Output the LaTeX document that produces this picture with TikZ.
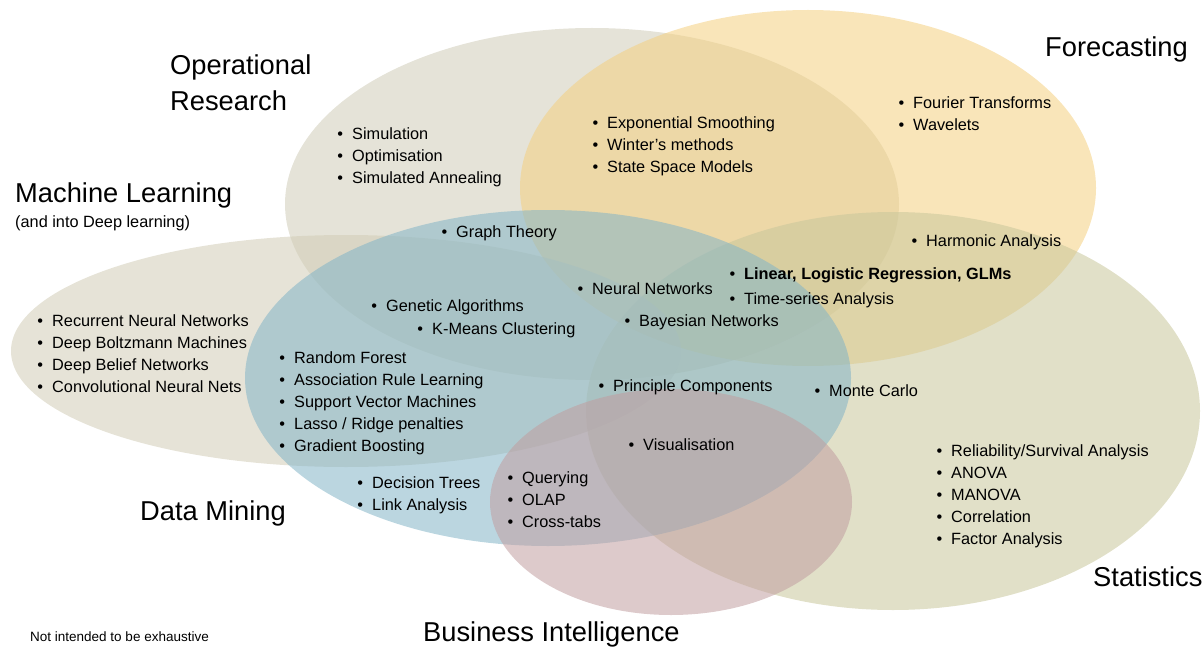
\documentclass[tikz,border=0pt]{standalone}
\usepackage{fontspec}
\setmainfont{Liberation Sans}

\definecolor{orgrey}{RGB}{207,204,184}
\definecolor{fcyellow}{RGB}{244,208,128}
\definecolor{mlgrey}{RGB}{209,204,182}
\definecolor{dmblue}{RGB}{131,180,199}
\definecolor{stolive}{RGB}{200,198,155}
\definecolor{bipink}{RGB}{193,158,160}

% bullet hanging left of the entry text
\newcommand\itm{\llap{\textbullet\hspace{9pt}}}
% #1 name, #2 x of text, #3 y of first line, #4 entries
\newcommand\itemlist[4]{%
  \foreach \txt [count=\k] in {#4}
    \node[entry] (#1\k) at (#2,#3+22*\k-22) {\txt};}

\tikzset{
  blob/.style={fill opacity=0.55},
  entry/.style={anchor=west, inner sep=0pt, text height=11.7pt, text depth=0pt,
    font=\fontsize{16.3}{22}\selectfont, execute at begin node=\itm},
  heading/.style={anchor=west, inner sep=0pt, text height=19.5pt, text depth=0pt,
    font=\fontsize{27.3}{36}\selectfont},
}

\begin{document}
\begin{tikzpicture}[x=1pt,y=-1pt]
  \useasboundingbox (0,0) rectangle (1204,647);

  % the six fields
  \fill [orgrey, blob] (592,204) ellipse [x radius=307, y radius=176];
  \fill [fcyellow, blob] (808,188) ellipse [x radius=288, y radius=178];
  \fill [stolive, blob] (893,411) ellipse [x radius=307, y radius=199];
  \fill [mlgrey, blob] (346,351) ellipse [x radius=335, y radius=116];
  \fill [dmblue, blob] (548,378) ellipse [x radius=303, y radius=168];
  \fill [bipink, blob] (671,502) ellipse [x radius=181, y radius=113];

  % field names
  \node [heading] (orA) at (170,65) {Operational};
  \node [heading] (orB) at (170,101) {Research};
  \node [heading] (fc) at (1045,47) {Forecasting};
  \node [heading] (ml) at (15,193) {Machine Learning};
  \node [anchor=west, inner sep=0pt, text height=11.7pt, text depth=0pt,
    font=\fontsize{16.3}{22}\selectfont] (mlsub) at (15,222) {(and into Deep learning)};
  \node [heading] (dm) at (140,511) {Data Mining};
  \node [heading] (st) at (1093,577) {Statistics};
  \node [heading] (bi) at (423,632) {Business Intelligence};
  \node [anchor=west, inner sep=0pt, font=\fontsize{13.5}{16}\selectfont] (note) at (30,637) {Not intended to be exhaustive};

  % methods
  \itemlist{ops}{352}{134}{Simulation, Optimisation, Simulated Annealing}
  \itemlist{smooth}{607}{123}{Exponential Smoothing, Winter’s methods, State Space Models}
  \itemlist{fourier}{913}{103}{Fourier Transforms, Wavelets}
  \itemlist{graph}{456}{232}{Graph Theory}
  \itemlist{harm}{926}{241}{Harmonic Analysis}
  \itemlist{glm}{744}{274}{{\bfseries Linear, Logistic Regression, GLMs}}
  \itemlist{tsa}{744}{299}{Time-series Analysis}
  \itemlist{neural}{592}{289}{Neural Networks}
  \itemlist{genetic}{386}{306}{Genetic Algorithms}
  \itemlist{kmeans}{432}{329}{K-Means Clustering}
  \itemlist{bayes}{639}{321}{Bayesian Networks}
  \itemlist{deep}{52}{321}{Recurrent Neural Networks, Deep Boltzmann Machines, Deep Belief Networks, Convolutional Neural Nets}
  \itemlist{mining}{294}{358}{Random Forest, Association Rule Learning, Support Vector Machines, Lasso / Ridge penalties, Gradient Boosting}
  \itemlist{pca}{613}{386}{Principle Components}
  \itemlist{monte}{829}{391}{Monte Carlo}
  \itemlist{vis}{643}{445}{Visualisation}
  \itemlist{stats}{951}{451}{Reliability/Survival Analysis, ANOVA, MANOVA, Correlation, Factor Analysis}
  \itemlist{trees}{372}{483}{Decision Trees, Link Analysis}
  \itemlist{query}{522}{478}{Querying, OLAP, Cross-tabs}
\end{tikzpicture}
\end{document}
